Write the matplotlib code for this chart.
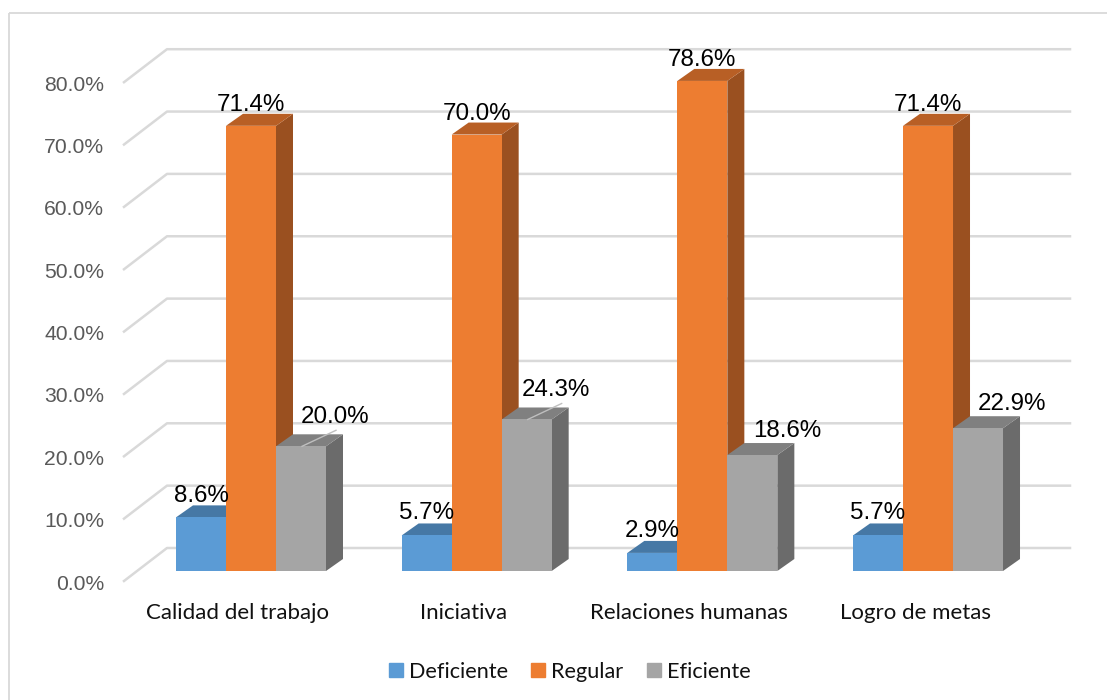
import matplotlib
matplotlib.use("Agg")
import matplotlib.pyplot as plt
from matplotlib.lines import Line2D
from matplotlib.patches import Polygon

categories = ["Calidad del trabajo", "Iniciativa", "Relaciones humanas", "Logro de metas"]
series_names = ["Deficiente", "Regular", "Eficiente"]
deficiente = [8.6, 5.7, 2.9, 5.7]
regular = [71.4, 70.0, 78.6, 71.4]
eficiente = [20.0, 24.3, 18.6, 22.9]
y_ticks = [0, 10, 20, 30, 40, 50, 60, 70, 80]

front_colors = ["#5B9BD5", "#ED7D31", "#A5A5A5"]
top_colors = ["#4678A5", "#B85F25", "#808080"]
side_colors = ["#3F6C96", "#9A5020", "#6B6B6B"]
grid_color = "#D9D9D9"

W, H = 1107, 700
PX_PER_PCT = 6.235     # vertical scale
PX_PER_CAT = 225.67    # distance between groups
Y0 = 571               # bar base, pixels from the top
X0 = 251               # centre of first group

fig = plt.figure(figsize=(W / 100, H / 100), dpi=100)
ax = fig.add_axes([0, 0, 1, 1])
ax.set_xlim(-X0 / PX_PER_CAT, (W - X0) / PX_PER_CAT)
ax.set_ylim(-(H - Y0) / PX_PER_PCT, Y0 / PX_PER_PCT)
ax.axis("off")

# helpers to give pixel lengths in data units
dx = lambda px: px / PX_PER_CAT
dy = lambda px: px / PX_PER_PCT

bar_w = dx(50)
depth_x, depth_y = dx(17), dy(12)

# outer frame: only left and top are visible
frame_x, frame_y = -X0 / PX_PER_CAT + dx(9), (Y0 - 13) / PX_PER_PCT
ax.plot([frame_x, frame_x], [-(H - Y0) / PX_PER_PCT, frame_y], color=grid_color, lw=1.3, solid_capstyle="butt")
ax.plot([frame_x, ax.get_xlim()[1]], [frame_y, frame_y], color=grid_color, lw=1.3, solid_capstyle="butt")

# gridlines on the floor edge and back wall
wall_x0, wall_x1, wall_x2 = dx(124 - X0), dx(167 - X0), dx(1070 - X0)
for t in y_ticks:
    y_front = t - dy(10)
    y_back = t + dy(23)
    ax.plot([wall_x0, wall_x1, wall_x2], [y_front, y_back, y_back], color=grid_color, lw=1.8, zorder=1)
    ax.annotate(f"{t:.1f}%", (wall_x0, y_front), xytext=(-20, -3), textcoords="offset pixels",
                ha="right", va="center", fontsize=15.2, color="#595959", family="Liberation Sans")

# boxes are painted left to right so each covers the sides of the previous one
for i, cat in enumerate(categories):
    for j, values in enumerate([deficiente, regular, eficiente]):
        v = values[i]
        x = i + (j - 1.5) * bar_w
        side = [(x + bar_w, 0), (x + bar_w + depth_x, depth_y), (x + bar_w + depth_x, v + depth_y), (x + bar_w, v)]
        top = [(x, v), (x + depth_x, v + depth_y), (x + bar_w + depth_x, v + depth_y), (x + bar_w, v)]
        ax.add_patch(Polygon(side, facecolor=side_colors[j], edgecolor="none", zorder=3))
        ax.add_patch(Polygon(top, facecolor=top_colors[j], edgecolor="none", zorder=3))
        ax.bar(x, v, width=bar_w, align="edge", color=front_colors[j], zorder=3)
    ax.text(i + dx(-13), dy(-42), cat, ha="center", va="center", fontsize=16, color="#111111", family="Lato")

# data labels, the tall bars and short bars sit above the box, grey ones up and to the right
label_nudge_x = [[0, 0, 34], [0, 0, 29], [0, 0, 35], [0, 0, 34]]
label_nudge_y = [[21, 21, 29], [22, 21, 29], [22, 21, 24], [22, 21, 24]]
for i in range(len(categories)):
    for j, values in enumerate([deficiente, regular, eficiente]):
        x = i + (j - 1) * bar_w
        ax.annotate(f"{values[i]:.1f}%", (x, values[i]),
                    xytext=(label_nudge_x[i][j], label_nudge_y[i][j]), textcoords="offset pixels",
                    ha="center", va="center", fontsize=17.4, color="black", family="Liberation Sans", zorder=5)

# leader lines for the two labels that sit over the grey boxes
for i in (0, 1):
    x = i + bar_w
    ax.plot([x + dx(1), x + dx(35)], [eficiente[i], eficiente[i] + dy(16)], color="#BFBFBF", lw=1, zorder=4)

handles = [Line2D([], [], ls="none", marker="s", markersize=10, color=c) for c in front_colors]
ax.legend(handles, series_names, loc="center", bbox_to_anchor=(569 / W, 1 - 671.5 / H), ncol=3, frameon=False,
          prop={"family": "Lato", "size": 15.6}, labelcolor="#111111",
          handlelength=0.8, handletextpad=0.2, columnspacing=1.0, borderpad=0)

fig.savefig("out.png", dpi=100, facecolor="white")
